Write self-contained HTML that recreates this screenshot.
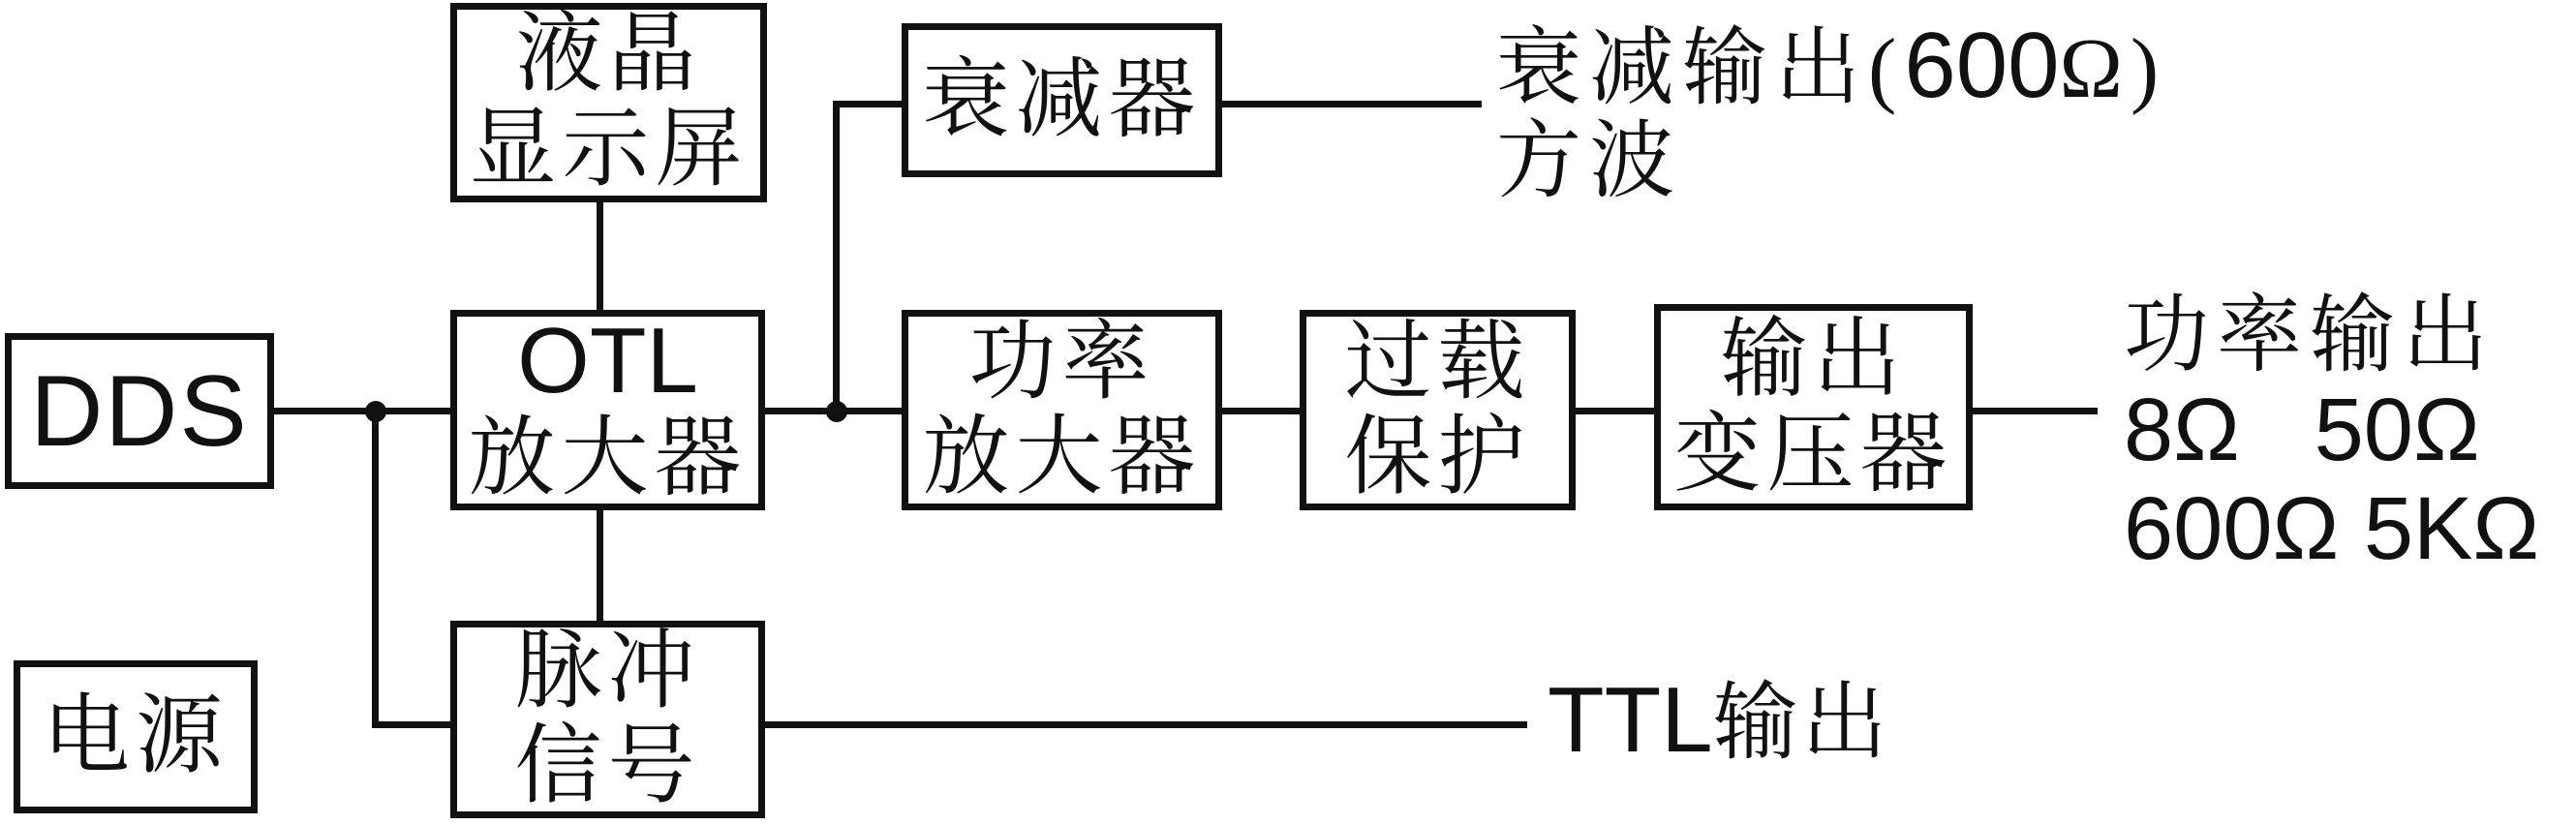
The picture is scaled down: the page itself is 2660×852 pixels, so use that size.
<!DOCTYPE html>
<html><head><meta charset="utf-8"><style>
body{margin:0;width:2660px;height:852px;background:#fff;position:relative;overflow:hidden}
.b{position:absolute;border:7px solid #111;box-sizing:border-box;display:flex;align-items:center;justify-content:center;text-align:center;font-family:"Liberation Serif","Noto Serif CJK SC",serif;font-size:90px;line-height:98px;letter-spacing:6px;color:#111}
.l{position:absolute;background:#111}
.t{position:absolute;font-family:"Liberation Serif","Noto Serif CJK SC",serif;font-size:88px;line-height:96px;letter-spacing:8px;color:#111;white-space:nowrap}
.s{font-family:"Liberation Sans",sans-serif;font-size:96px;letter-spacing:0}
.d{position:absolute;width:22px;height:22px;border-radius:50%;background:#111}
</style></head><body>
<div class="l" style="left:283px;top:421px;width:182px;height:7px"></div>
<div class="l" style="left:384px;top:421px;width:7px;height:331px"></div>
<div class="l" style="left:384px;top:745px;width:81px;height:7px"></div>
<div class="l" style="left:616px;top:209px;width:7px;height:111px"></div>
<div class="l" style="left:616px;top:527px;width:7px;height:114px"></div>
<div class="l" style="left:790px;top:421px;width:141px;height:7px"></div>
<div class="l" style="left:860px;top:104px;width:7px;height:320px"></div>
<div class="l" style="left:860px;top:104px;width:71px;height:7px"></div>
<div class="l" style="left:1262px;top:104px;width:268px;height:7px"></div>
<div class="l" style="left:1262px;top:421px;width:80px;height:7px"></div>
<div class="l" style="left:1625px;top:421px;width:83px;height:7px"></div>
<div class="l" style="left:2037px;top:421px;width:129px;height:7px"></div>
<div class="l" style="left:790px;top:745px;width:787px;height:7px"></div>
<div class="d" style="left:377px;top:414px"></div>
<div class="d" style="left:853px;top:414px"></div>

<div class="b" style="left:5px;top:344px;width:278px;height:161px;font-family:'Liberation Sans',sans-serif;font-size:104px;letter-spacing:2px">DDS</div>
<div class="b" style="left:14px;top:682px;width:252px;height:158px">电源</div>
<div class="b" style="left:465px;top:3px;width:327px;height:206px">液晶<br>显示屏</div>
<div class="b" style="left:465px;top:320px;width:325px;height:207px"><div><span class="s">OTL</span><br>放大器</div></div>
<div class="b" style="left:465px;top:641px;width:325px;height:204px">脉冲<br>信号</div>
<div class="b" style="left:931px;top:24px;width:331px;height:159px">衰减器</div>
<div class="b" style="left:931px;top:320px;width:331px;height:207px">功率<br>放大器</div>
<div class="b" style="left:1342px;top:320px;width:285px;height:207px">过载<br>保护</div>
<div class="b" style="left:1708px;top:314px;width:329px;height:213px">输出<br>变压器</div>

<div class="t" style="left:1545px;top:20px">衰减输出(<span class="s">600</span>Ω)</div>
<div class="t" style="left:1545px;top:120px">方波</div>
<div class="t" style="left:2193px;top:300px">功率输出</div>
<div class="t s" style="left:2193px;top:396px;font-size:92px">8Ω&nbsp;&nbsp;&nbsp;50Ω</div>
<div class="t s" style="left:2193px;top:498px;font-size:92px">600Ω 5KΩ</div>
<div class="t" style="left:1598px;top:696px;letter-spacing:4px"><span class="s">TTL</span>输出</div>
</body></html>
